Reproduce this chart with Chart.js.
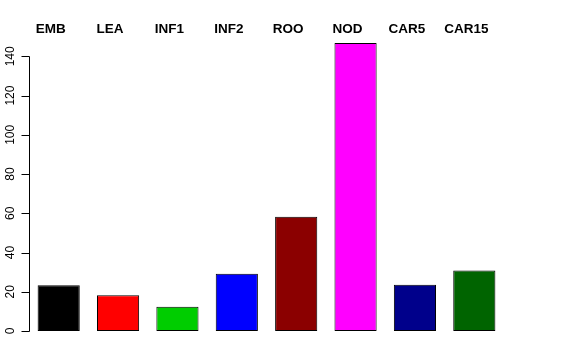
<!DOCTYPE html>
<html>
<head>
<meta charset="utf-8">
<script src="https://cdn.jsdelivr.net/npm/chart.js@4"></script>
<style>
html,body{margin:0;padding:0;background:#fff;}
#wrap{width:576px;height:360px;}
</style>
</head>
<body>
<div id="wrap"><canvas id="c" width="576" height="360"></canvas></div>
<script>
const categories = ["EMB","LEA","INF1","INF2","ROO","NOD","CAR5","CAR15"];
const values = [23.3, 18.2, 12.4, 29.2, 58.2, 146.8, 23.6, 30.9];
const barColors = ["#000000","#FF0000","#00CD00","#0000FF","#8B0000","#FF00FF","#00008B","#006400"];
const yTicks = [0, 20, 40, 60, 80, 100, 120, 140];

const rAxes = {
  id: 'rAxes',
  afterDraw(chart) {
    const ctx = chart.ctx;
    const x = chart.scales.x, y = chart.scales.y;
    const ax = chart.chartArea.left;
    ctx.save();
    ctx.strokeStyle = '#000';
    ctx.lineWidth = 1;
    ctx.beginPath();
    const y0 = Math.round(y.getPixelForValue(yTicks[0])) + 0.5;
    const y1 = Math.round(y.getPixelForValue(yTicks[yTicks.length - 1])) + 0.5;
    ctx.moveTo(ax + 0.5, y0);
    ctx.lineTo(ax + 0.5, y1);
    yTicks.forEach(t => {
      const py = Math.round(y.getPixelForValue(t)) + 0.5;
      ctx.moveTo(ax + 0.5, py);
      ctx.lineTo(ax - 7.5, py);
    });
    ctx.stroke();
    ctx.fillStyle = '#000';
    ctx.font = '12px "Liberation Sans", Arial, sans-serif';
    ctx.textAlign = 'center';
    ctx.textBaseline = 'alphabetic';
    yTicks.forEach(t => {
      const py = y.getPixelForValue(t);
      ctx.save();
      ctx.translate(13.5, py);
      ctx.rotate(-Math.PI / 2);
      ctx.fillText(String(t), 0, 0);
      ctx.restore();
    });
    ctx.font = 'bold 13.5px "Liberation Sans", Arial, sans-serif';
    ctx.textBaseline = 'middle';
    categories.forEach((c, i) => {
      ctx.fillText(c, x.getPixelForValue(i) - 8, 29.5);
    });
    ctx.restore();
  }
};

new Chart(document.getElementById('c'), {
  type: 'bar',
  data: {
    labels: categories,
    datasets: [{
      data: values,
      backgroundColor: barColors,
      borderColor: '#000',
      borderWidth: 1,
      borderSkipped: false,
      categoryPercentage: 1.0,
      barPercentage: 0.71
    }]
  },
  options: {
    responsive: false,
    animation: false,
    devicePixelRatio: 1,
    layout: { padding: { left: 29, right: 72, top: 43, bottom: 29 } },
    plugins: { legend: { display: false }, tooltip: { enabled: false } },
    scales: {
      x: { display: false },
      y: { display: false, min: 0, max: 146.8 }
    }
  },
  plugins: [rAxes]
});
</script>
</body>
</html>
